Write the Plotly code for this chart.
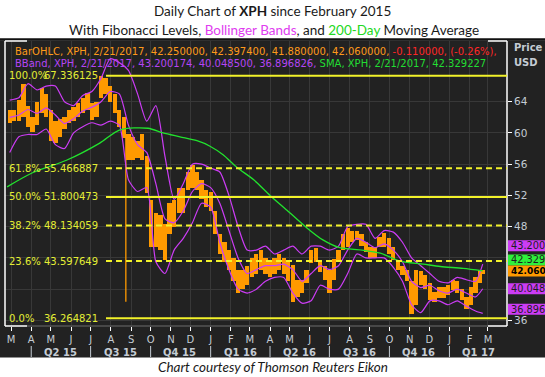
import plotly.graph_objects as go
import pandas as pd

# ---------------- data ----------------
week_dates = list(pd.date_range("2015-02-27", periods=104, freq="W-FRI").strftime("%Y-%m-%d")) + ["2017-02-21"]
week_low = [61.3, 61.5, 61.5, 62.0, 60.8, 60.1, 61.0, 62.5, 62.0, 59.0,
            58.7, 59.5, 60.5, 61.3, 61.5, 62.0, 62.5, 63.0, 61.7, 62.0,
            64.5, 65.0, 64.0, 62.5, 60.8, 59.3, 56.5, 56.5, 56.8, 56.5,
            52.3, 45.4, 45.4, 45.0, 43.7, 47.0, 48.0, 49.7, 49.7, 52.7,
            53.0, 52.7, 51.5, 50.5, 50.0, 47.0, 44.5, 43.5, 42.5, 41.0,
            39.5, 40.0, 40.5, 41.5, 42.0, 42.5, 42.0, 41.5, 42.0, 42.5,
            42.0, 41.0, 38.4, 39.0, 39.5, 40.8, 43.3, 43.5, 42.2, 41.2,
            39.5, 41.2, 43.7, 45.0, 45.4, 46.0, 46.3, 45.5, 44.8, 44.0,
            44.0, 45.4, 45.4, 44.5, 43.7, 42.5, 41.8, 41.0, 36.8, 38.0,
            40.5, 40.0, 38.6, 38.3, 38.9, 38.9, 39.3, 39.9, 39.5, 38.6,
            37.4, 38.0, 39.5, 40.8, 41.88]
week_high = [62.9, 63.0, 64.2, 66.3, 63.5, 62.0, 64.0, 65.7, 65.0, 63.0,
             61.5, 61.8, 62.0, 63.0, 63.3, 63.8, 64.5, 65.1, 63.8, 64.0,
             67.3, 67.0, 66.0, 65.0, 63.0, 62.0, 59.8, 59.5, 59.0, 59.8,
             57.0, 51.4, 49.7, 49.5, 48.4, 51.0, 51.4, 53.0, 53.0, 55.0,
             55.9, 55.0, 54.0, 52.7, 52.5, 50.0, 47.0, 46.0, 45.0, 44.0,
             42.5, 42.5, 43.0, 44.0, 44.5, 45.0, 44.0, 43.5, 44.0, 44.5,
             44.0, 43.5, 43.1, 41.2, 41.2, 42.5, 45.0, 45.3, 43.7, 42.9,
             42.5, 43.8, 45.0, 47.0, 47.8, 47.5, 47.5, 47.0, 46.0, 45.4,
             45.4, 46.7, 47.2, 46.5, 45.4, 43.7, 43.0, 42.5, 41.0, 42.5,
             42.3, 41.8, 40.8, 39.6, 40.3, 40.3, 40.5, 41.2, 41.0, 40.0,
             39.0, 40.3, 41.5, 42.5, 42.3974]

# flash-crash day (24 Aug 2015)
spike_dates = ["2015-08-24", "2015-08-24"]
spike_vals = [38.4, 59.5]

bb_dates = ["2015-02-27", "2015-03-13", "2015-03-27", "2015-04-10", "2015-04-24", "2015-05-08",
            "2015-05-22", "2015-06-05", "2015-06-19", "2015-07-03", "2015-07-17", "2015-07-31",
            "2015-08-14", "2015-08-28", "2015-09-11", "2015-09-25", "2015-10-09", "2015-10-23",
            "2015-11-06", "2015-11-20", "2015-12-04", "2015-12-18", "2016-01-01", "2016-01-15",
            "2016-01-29", "2016-02-12", "2016-02-26", "2016-03-11", "2016-03-25", "2016-04-08",
            "2016-04-22", "2016-05-06", "2016-05-20", "2016-06-03", "2016-06-17", "2016-07-01",
            "2016-07-15", "2016-07-29", "2016-08-12", "2016-08-26", "2016-09-09", "2016-09-23",
            "2016-10-07", "2016-10-21", "2016-11-04", "2016-11-18", "2016-12-02", "2016-12-16",
            "2016-12-30", "2017-01-13", "2017-01-27", "2017-02-10", "2017-02-21"]
bb_upper = [64.2, 64.5, 66.3, 65.5, 66.0, 66.0, 64.0, 63.5, 64.8, 65.3, 67.0, 69.5,
            69.0, 68.0, 65.0, 61.5, 63.5, 57.0, 51.5, 53.5, 56.0, 56.0, 55.5, 55.0,
            52.0, 48.0, 45.0, 45.0, 45.5, 44.5, 45.0, 45.5, 44.5, 45.5, 45.5, 45.0,
            45.5, 48.0, 48.3, 48.3, 46.5, 47.5, 47.3, 46.0, 44.0, 43.0, 42.0, 41.0,
            40.8, 41.5, 41.2, 41.0, 43.200174]
bb_mid = [62.0, 62.3, 63.0, 62.5, 63.2, 62.3, 61.2, 61.8, 62.8, 63.3, 64.0, 65.3,
          65.0, 61.0, 58.5, 57.5, 53.5, 49.0, 48.5, 50.0, 52.5, 53.5, 53.0, 51.0,
          47.5, 44.0, 42.0, 42.5, 43.0, 43.0, 43.2, 42.5, 41.0, 42.0, 43.0, 42.5,
          43.0, 45.0, 46.5, 46.0, 45.3, 45.8, 45.0, 43.5, 41.0, 40.2, 40.5, 39.8,
          39.5, 40.0, 39.5, 39.0, 40.0485]
bb_lower = [57.5, 59.5, 59.8, 59.8, 60.5, 58.5, 58.0, 60.0, 60.8, 61.3, 61.0, 61.5,
            61.0, 54.0, 52.5, 53.0, 43.5, 42.0, 45.0, 46.5, 48.5, 51.0, 50.5, 46.0,
            42.5, 40.0, 39.5, 40.0, 41.0, 41.5, 41.5, 39.5, 38.2, 38.5, 40.5, 40.0,
            40.0, 42.0, 44.5, 44.0, 44.0, 44.0, 42.8, 41.0, 38.0, 37.0, 38.5, 38.5,
            38.0, 38.5, 37.8, 37.2, 36.896826]

sma_dates = ["2015-02-23", "2015-04-03", "2015-05-25", "2015-07-15", "2015-08-15", "2015-09-27",
             "2015-10-20", "2015-11-15", "2015-12-11", "2015-12-31", "2016-01-20", "2016-02-10",
             "2016-03-07", "2016-04-01", "2016-04-27", "2016-05-28", "2016-06-21", "2016-07-17",
             "2016-08-20", "2016-09-17", "2016-10-02", "2016-10-17", "2016-11-22", "2016-12-18",
             "2017-01-22", "2017-02-21"]
sma_vals = [53.1, 54.9, 56.5, 58.7, 60.4, 60.6, 60.0, 59.5, 59.0, 58.3, 57.2, 55.6,
            54.0, 52.0, 50.1, 47.8, 46.3, 45.3, 45.0, 44.6, 44.1, 43.6, 43.2, 42.9,
            42.65, 42.329227]

fib_pct = ["100.0%", "61.8%", "50.0%", "38.2%", "23.6%", "0.0%"]
fib_vals = [67.336125, 55.466887, 51.800473, 48.134059, 43.597649, 36.264821]
fib_dash = ["solid", "dash", "solid", "dash", "dash", "solid"]

last_date = "2/21/2017"
last_ohlc = [42.25, 42.3974, 41.88, 42.06]
last_chg = -0.11
last_chg_pct = -0.26

month_ticks = list(pd.date_range("2015-03-01", "2017-03-01", freq="MS").strftime("%Y-%m-%d"))
month_text = ["M", "A", "M", "J", "J", "A", "S", "O", "N", "D", "J", "F",
              "M", "A", "M", "J", "J", "A", "S", "O", "N", "D", "J", "F", "M"]
quarter_starts = ["2015-04-01", "2015-07-01", "2015-10-01", "2016-01-01",
                  "2016-04-01", "2016-07-01", "2016-10-01", "2017-01-01"]
quarter_mids = ["2015-05-16", "2015-08-16", "2015-11-15", "2016-02-15",
                "2016-05-16", "2016-08-16", "2016-11-15", "2017-02-14"]
quarter_labels = ["Q2 15", "Q3 15", "Q4 15", "Q1 16", "Q2 16", "Q3 16", "Q4 16", "Q1 17"]
y_ticks = [36, 40, 44, 48, 52, 56, 60, 64]
y_ticktext = ["36", "", "", "48", "52", "56", "60", "64"]   # 40 and 44 sit under the value boxes

# ---------------- styling ----------------
W, H = 545, 377
ML, MR, MT, MB = 5, 38, 41, 51
PW, PH = W - ML - MR, H - MT - MB
def px(x):  # pixel x -> paper
    return (x - ML) / PW
def py(y):  # pixel y -> paper
    return (H - MB - y) / PH

BG = "#222222"
ORANGE = "#ff9a00"
MAG = "#cc3cf5"
GREEN = "#22e22e"
YEL = "#f2f22a"
FIBTXT = "#e4ee35"
AXTXT = "#c4ccd4"
FONT = "DejaVu Sans"

fig = go.Figure()
fig.add_trace(go.Bar(x=week_dates, y=[h - l for h, l in zip(week_high, week_low)], base=week_low,
                     marker=dict(color=ORANGE, line=dict(width=0)), width=6.6 * 86400000,
                     hoverinfo="skip"))
fig.add_trace(go.Scatter(x=spike_dates, y=spike_vals, mode="lines",
                         line=dict(color=ORANGE, width=1.3), hoverinfo="skip"))
for arr in (bb_upper, bb_mid, bb_lower):
    fig.add_trace(go.Scatter(x=bb_dates, y=arr, mode="lines",
                             line=dict(color=MAG, width=1.2, shape="spline", smoothing=0.6),
                             hoverinfo="skip"))
fig.add_trace(go.Scatter(x=sma_dates, y=sma_vals, mode="lines",
                         line=dict(color=GREEN, width=1.3, shape="spline", smoothing=0.8),
                         hoverinfo="skip"))

shapes = []
shapes.append(dict(type="rect", xref="paper", yref="paper", x0=px(0), x1=px(W), y0=py(357.5), y1=py(40.5),
                   fillcolor=BG, line=dict(width=0), layer="below"))
shapes.append(dict(type="line", xref="paper", yref="paper", x0=px(0), x1=px(W), y0=py(39.5), y1=py(39.5),
                   line=dict(color="#111111", width=2.5)))
fw = dict(color="#ffffff", width=1.5)
shapes += [
    dict(type="line", xref="paper", yref="paper", x0=0, x1=0, y0=0, y1=1, line=fw),
    dict(type="line", xref="paper", yref="paper", x0=1, x1=1, y0=0, y1=1, line=fw),
    dict(type="line", xref="paper", yref="paper", x0=0, x1=px(27), y0=1, y1=1, line=fw),
    dict(type="line", xref="paper", yref="paper", x0=px(488), x1=1, y0=1, y1=1, line=fw),
    dict(type="line", xref="paper", yref="paper", x0=px(27), x1=px(488), y0=0, y1=0,
         line=dict(color="#555555", width=1.5)),
    dict(type="line", xref="paper", yref="paper", x0=0, x1=px(27), y0=0, y1=0, line=fw),
    dict(type="line", xref="paper", yref="paper", x0=px(488), x1=1, y0=0, y1=0, line=fw),
]
for v, d in zip(fib_vals, fib_dash):
    shapes.append(dict(type="line", xref="paper", yref="y", x0=px(106), x1=1, y0=v, y1=v,
                       line=dict(color=YEL, width=2, dash="solid" if d == "solid" else "6px,4px"),
                       layer="above"))
for q in quarter_starts:
    shapes.append(dict(type="line", xref="x", yref="paper", x0=q, x1=q, y0=py(346), y1=py(357),
                       line=dict(color=AXTXT, width=1)))

annotations = []
def ann(**kw):
    base = dict(showarrow=False, yanchor="middle")
    base.update(kw)
    annotations.append(base)

ann(xref="paper", yref="paper", x=px(W / 2), y=py(11), xanchor="center",
    text="Daily Chart of <b>XPH</b> since February 2015",
    font=dict(family="Lato", size=13.5, color="#1a1a1a"))
ann(xref="paper", yref="paper", x=px(W / 2 + 1), y=py(29.5), xanchor="center",
    text="With Fibonacci Levels, <span style='color:#e03cf0'>Bollinger Bands</span>, and "
         "<span style='color:#22d822'>200-Day</span> Moving Average",
    font=dict(family="Lato", size=13.5, color="#1a1a1a"))
ann(xref="paper", yref="paper", x=px(273), y=py(367), xanchor="center",
    text="<i>Chart courtesy of Thomson Reuters Eikon</i>",
    font=dict(family="Lato", size=13.5, color="#1a1a1a"))

ohlc_txt = ", ".join("%.6f" % v for v in last_ohlc)
line1 = ("<span style='color:#ff9a1a'>BarOHLC, XPH, %s, %s, </span>"
         "<span style='color:#ff2626'>%.6f, (%.2f%%),</span>" % (last_date, ohlc_txt, last_chg, last_chg_pct))
line2 = ("<span style='color:#b545f5'>BBand, XPH, %s, %.6f, %.6f, %.6f, </span>"
         "<span style='color:#22dd33'>SMA, XPH, %s, %.6f</span>"
         % (last_date, bb_upper[-1], bb_mid[-1], bb_lower[-1], last_date, sma_vals[-1]))
ann(xref="paper", yref="paper", x=px(13), y=py(51.3), xanchor="left", text=line1, font=dict(family=FONT, size=10))
ann(xref="paper", yref="paper", x=px(13), y=py(63), xanchor="left", text=line2, font=dict(family=FONT, size=10))

for p, v in zip(fib_pct, fib_vals):
    ann(xref="paper", yref="y", x=px(7), y=v, xanchor="left", text=p,
        font=dict(family=FONT, size=10, color=FIBTXT))
    ann(xref="paper", yref="y", x=px(99.5), y=v, xanchor="right", text="%.6f" % v,
        font=dict(family=FONT, size=10, color=FIBTXT))

ann(xref="paper", yref="paper", x=px(512), y=py(48), xanchor="left", text="<b>Price</b>",
    font=dict(family=FONT, size=10, color=AXTXT))
ann(xref="paper", yref="paper", x=px(512), y=py(62), xanchor="left", text="<b>USD</b>",
    font=dict(family=FONT, size=10, color=AXTXT))

for q, t in zip(quarter_mids, quarter_labels):
    ann(xref="x", yref="paper", x=q, y=py(352), xanchor="center", text="<b>%s</b>" % t,
        font=dict(family=FONT, size=10, color=AXTXT))

boxes = [(bb_upper[-1], 18.5, MAG, "#1e1e1e", False),
         (sma_vals[-1], 11, "#2ef03c", "#1e1e1e", False),
         (last_ohlc[3], 2, ORANGE, "#000000", True),
         (bb_mid[-1], 0, MAG, "#1e1e1e", False),
         (bb_lower[-1], 4, MAG, "#1e1e1e", False)]
for v, sh, col, tc, bold in boxes:
    shapes.append(dict(type="rect", xref="paper", yref="y", ysizemode="pixel", yanchor=v,
                       x0=px(508), x1=px(W + 2), y0=sh - 5.5, y1=sh + 5.5,
                       fillcolor=col, line=dict(width=0), layer="above"))
    txt = "%.3f" % (int(v * 1000) / 1000.0)
    ann(xref="paper", yref="y", x=px(509), y=v, yshift=sh, xanchor="left",
        text="<b>%s</b>" % txt if bold else txt,
        font=dict(family=FONT, size=9.0 if bold else 9.8, color=tc))

fig.update_layout(
    width=W, height=H, margin=dict(l=ML, r=MR, t=MT, b=MB),
    paper_bgcolor="#ffffff", plot_bgcolor=BG, showlegend=False, bargap=0,
    shapes=shapes, annotations=annotations,
    xaxis=dict(type="date", range=["2015-02-19 19:00", "2017-03-30 05:00"],
               tickvals=month_ticks, ticktext=month_text, ticks="outside", ticklen=4,
               tickcolor="#ffffff", tickfont=dict(family=FONT, size=10, color=AXTXT),
               showgrid=True, gridcolor="#383838", gridwidth=1, zeroline=False,
               showline=False, fixedrange=True),
    yaxis=dict(side="right", range=[35.28, 71.77], tickvals=y_ticks, ticktext=y_ticktext,
               ticks="outside", ticklen=4,
               tickcolor="#ffffff", tickfont=dict(family=FONT, size=10.5, color=AXTXT),
               showgrid=True, gridcolor="#383838", gridwidth=1, zeroline=False,
               showline=False, fixedrange=True),
)
fig.write_html("out.html", config={"displayModeBar": False},
               post_script="document.body.style.margin='0px';")
